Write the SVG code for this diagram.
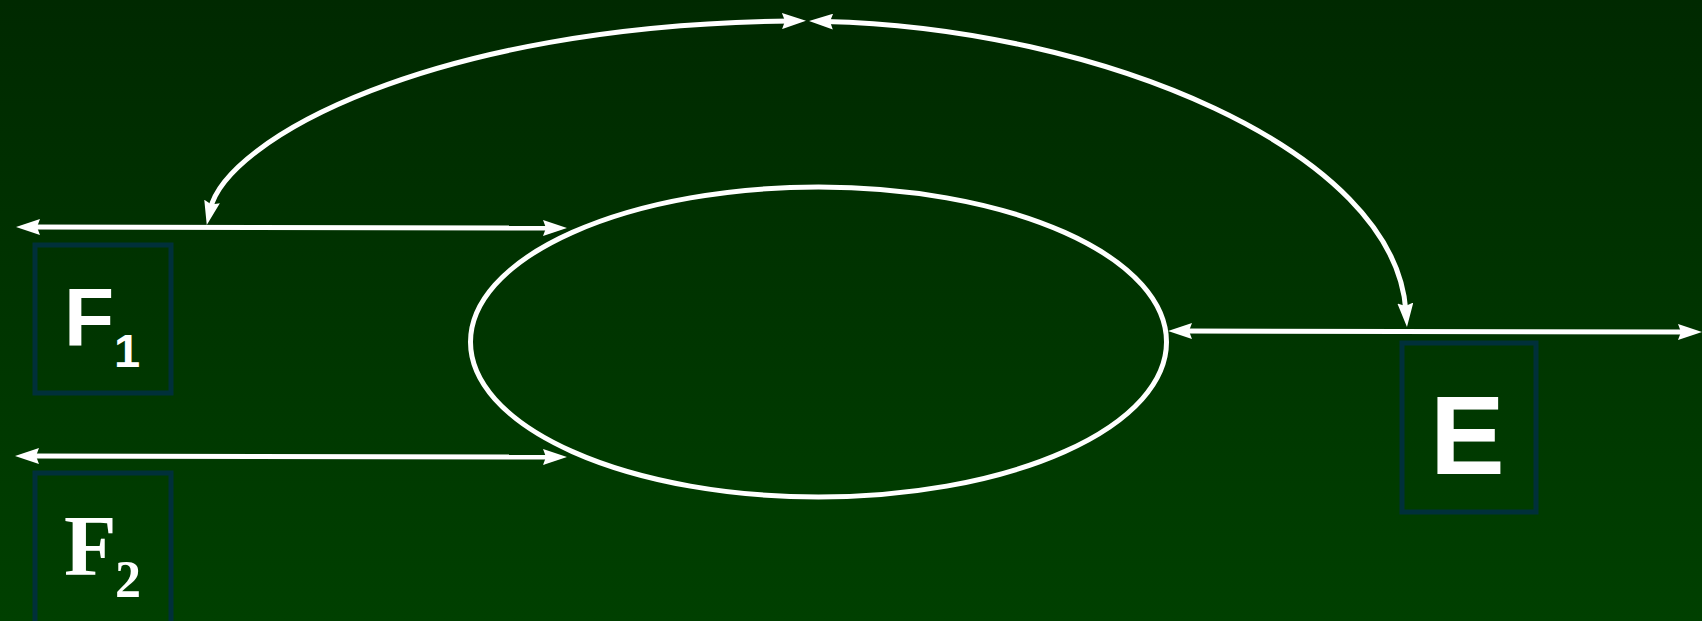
<svg xmlns="http://www.w3.org/2000/svg" width="1702" height="621" viewBox="0 0 1702 621">
<defs>
<linearGradient id="bg" x1="0" y1="0" x2="0" y2="1">
<stop offset="0" stop-color="#002900"/>
<stop offset="1" stop-color="#004000"/>
</linearGradient>
<marker id="ah" viewBox="0 0 24 16" refX="8" refY="8" markerWidth="24" markerHeight="16" markerUnits="userSpaceOnUse" orient="auto-start-reverse">
<path d="M0,0 L24,8 L0,16 L3,8 Z" fill="#ffffff"/>
</marker>
<style>
.ln{fill:none;stroke:#ffffff;stroke-width:5;marker-start:url(#ah);marker-end:url(#ah)}
.box{fill:none;stroke:#00303a;stroke-width:5}
.lbl{fill:#ffffff}
.sans{font-family:"Liberation Sans",Arial,sans-serif;font-weight:bold}
.serif{font-family:"Liberation Serif","Times New Roman",serif;font-weight:bold}
</style>
</defs>
<rect x="0" y="0" width="1702" height="621" fill="url(#bg)"/>
<g id="loop">
<ellipse cx="818.5" cy="342" rx="348" ry="155" fill="none" stroke="#ffffff" stroke-width="5"/>
</g>
<g id="F1">
<rect class="box" x="35" y="245" width="136" height="148" stroke="#083324"/>
<text class="lbl sans" x="64" y="346" font-size="82">F</text>
<text class="lbl sans" x="114" y="367" font-size="47">1</text>
</g>
<g id="F2">
<rect class="box" x="35" y="473" width="136" height="160"/>
<text class="lbl serif" x="64" y="575" font-size="86">F</text>
<text class="lbl serif" x="115" y="597" font-size="52">2</text>
</g>
<g id="E">
<rect class="box" x="1402" y="343" width="134" height="169"/>
<text class="lbl sans" x="1430" y="474" font-size="112">E</text>
</g>
<g id="connectors">
<line class="ln" x1="32" y1="227" x2="551" y2="228"/>
<line class="ln" x1="31" y1="456" x2="551" y2="457"/>
<line class="ln" x1="1184" y1="331" x2="1686" y2="332"/>
<path class="ln" d="M210.3,209.3 C226,140 430,25 790,21"/>
<path class="ln" d="M825,21.4 C1100,28 1395,150 1405.9,311"/>
</g>
</svg>
